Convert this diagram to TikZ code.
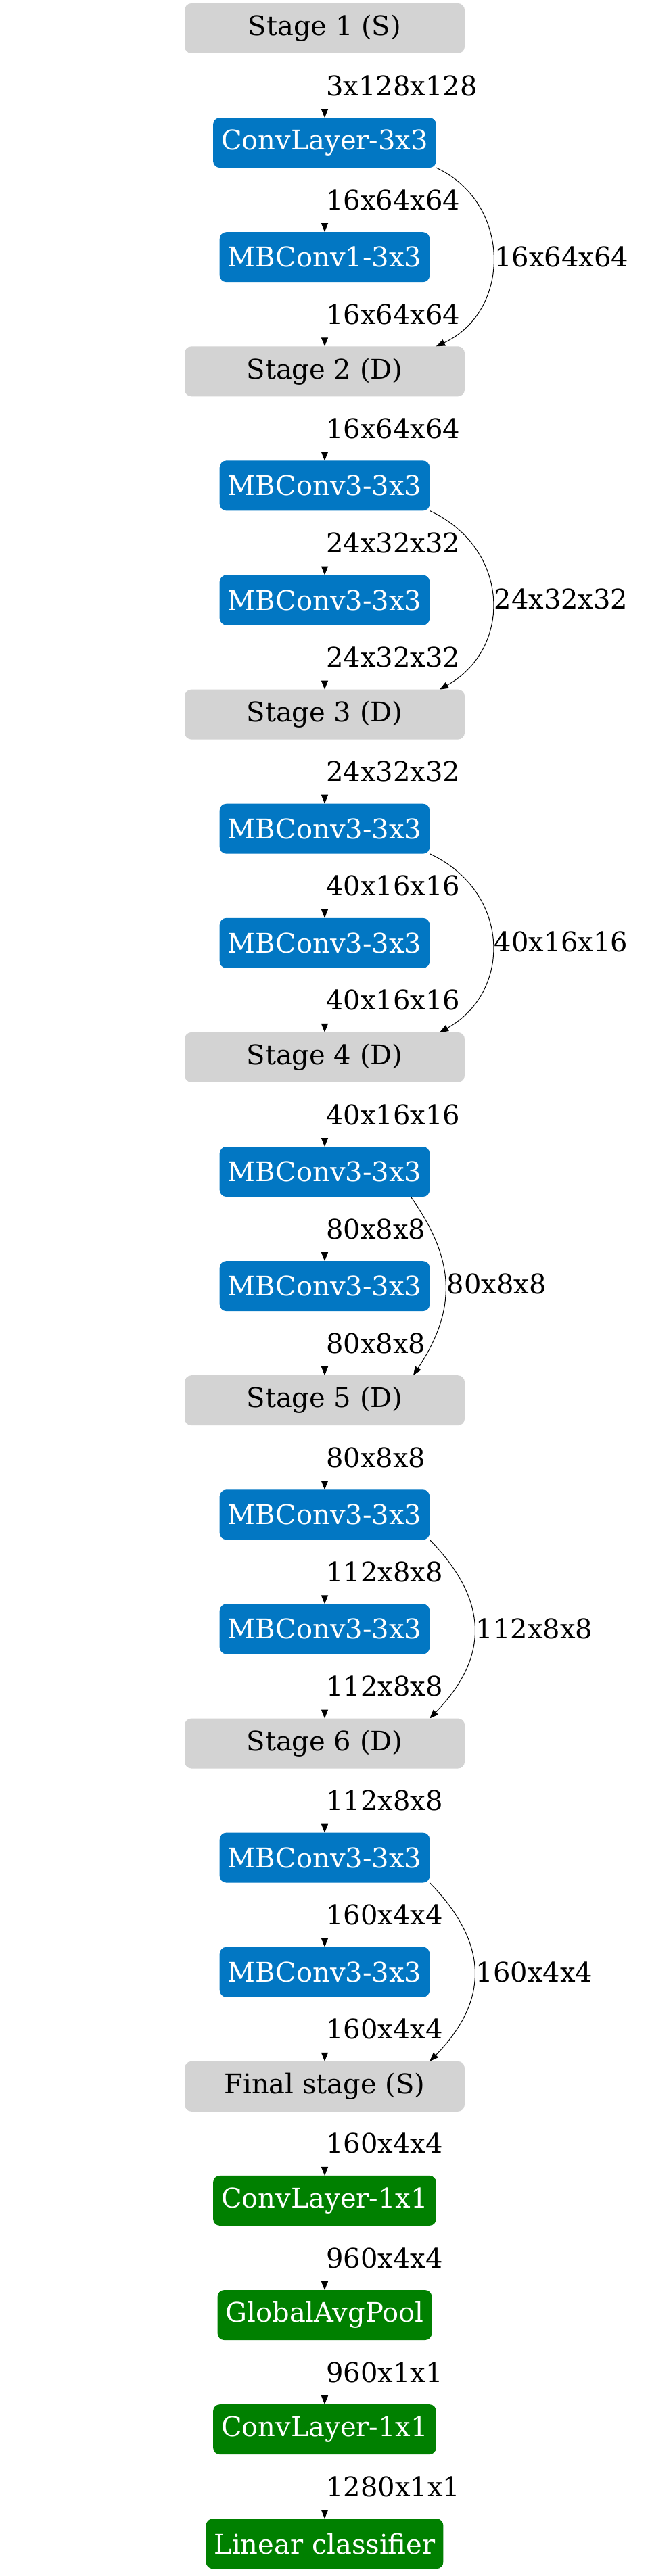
\documentclass[tikz,border=0pt]{standalone}
\usepackage{fontspec}
\setmainfont{DejaVu Serif}
\usetikzlibrary{positioning,arrows.meta}
\definecolor{stagegray}{HTML}{D3D3D3}
\definecolor{mbblue}{HTML}{0277C3}
\definecolor{headgreen}{HTML}{008000}

\begin{document}
\begin{tikzpicture}[
        font=\fontsize{20}{24}\selectfont,
        node distance=47.55pt,
        box/.style={rounded corners=5pt, minimum height=37pt, inner xsep=6pt, inner ysep=0pt, outer sep=0pt},
        stage/.style={box, fill=stagegray, minimum width=207pt},
        mbconv/.style={box, fill=mbblue, text=white},
        head/.style={box, fill=headgreen, text=white},
        flow/.style={line width=0.5pt, -{Triangle[length=6.5pt,width=5pt]}},
        dims/.style={right, inner sep=1pt}
    ]
        \useasboundingbox (0,0) rectangle (480pt,-1905pt);

        \node[stage, anchor=north] (s1) at (240pt,-2.5pt) {Stage 1 (S)};
        \node[mbconv, below=of s1] (conv1) {ConvLayer-3x3};
        \node[mbconv, below=of conv1] (mb1) {MBConv1-3x3};
        \node[stage, below=of mb1] (s2) {Stage 2 (D)};
        \node[mbconv, below=of s2] (mb2a) {MBConv3-3x3};
        \node[mbconv, below=of mb2a] (mb2b) {MBConv3-3x3};
        \node[stage, below=of mb2b] (s3) {Stage 3 (D)};
        \node[mbconv, below=of s3] (mb3a) {MBConv3-3x3};
        \node[mbconv, below=of mb3a] (mb3b) {MBConv3-3x3};
        \node[stage, below=of mb3b] (s4) {Stage 4 (D)};
        \node[mbconv, below=of s4] (mb4a) {MBConv3-3x3};
        \node[mbconv, below=of mb4a] (mb4b) {MBConv3-3x3};
        \node[stage, below=of mb4b] (s5) {Stage 5 (D)};
        \node[mbconv, below=of s5] (mb5a) {MBConv3-3x3};
        \node[mbconv, below=of mb5a] (mb5b) {MBConv3-3x3};
        \node[stage, below=of mb5b] (s6) {Stage 6 (D)};
        \node[mbconv, below=of s6] (mb6a) {MBConv3-3x3};
        \node[mbconv, below=of mb6a] (mb6b) {MBConv3-3x3};
        \node[stage, below=of mb6b] (sfin) {Final stage (S)};
        \node[head, below=of sfin] (convh) {ConvLayer-1x1};
        \node[head, below=of convh] (pool) {GlobalAvgPool};
        \node[head, below=of pool] (convf) {ConvLayer-1x1};
        \node[head, below=of convf] (lin) {Linear classifier};

        \draw[flow] (s1) -- node[dims] {3x128x128} (conv1);
        \draw[flow] (conv1) -- node[dims] {16x64x64} (mb1);
        \draw[flow] (mb1) -- node[dims] {16x64x64} (s2);
        \draw[flow] (conv1.south east) .. controls +(56pt,-26pt) and +(56pt,26pt) .. (conv1.east |- s2.north) node[dims, midway] {16x64x64};

        \draw[flow] (s2) -- node[dims] {16x64x64} (mb2a);
        \draw[flow] (mb2a) -- node[dims] {24x32x32} (mb2b);
        \draw[flow] (mb2b) -- node[dims] {24x32x32} (s3);
        \draw[flow] (mb2a.south east) .. controls +(60pt,-28pt) and +(54pt,30pt) .. ([xshift=-18.5pt]s3.north east) node[dims, midway] {24x32x32};

        \draw[flow] (s3) -- node[dims] {24x32x32} (mb3a);
        \draw[flow] (mb3a) -- node[dims] {40x16x16} (mb3b);
        \draw[flow] (mb3b) -- node[dims] {40x16x16} (s4);
        \draw[flow] (mb3a.south east) .. controls +(60pt,-28pt) and +(54pt,30pt) .. ([xshift=-18.5pt]s4.north east) node[dims, midway] {40x16x16};

        \draw[flow] (s4) -- node[dims] {40x16x16} (mb4a);
        \draw[flow] (mb4a) -- node[dims] {80x8x8} (mb4b);
        \draw[flow] (mb4b) -- node[dims] {80x8x8} (s5);
        \draw[flow] ([xshift=-14pt]mb4a.south east) .. controls +(32.5pt,-46pt) and +(33pt,50pt) .. ([xshift=-38pt]s5.north east) node[dims, midway] {80x8x8};

        \draw[flow] (s5) -- node[dims] {80x8x8} (mb5a);
        \draw[flow] (mb5a) -- node[dims] {112x8x8} (mb5b);
        \draw[flow] (mb5b) -- node[dims] {112x8x8} (s6);
        \draw[flow] (mb5a.south east) .. controls +(44pt,-45pt) and +(44pt,45pt) .. (mb5a.east |- s6.north) node[dims, midway] {112x8x8};

        \draw[flow] (s6) -- node[dims] {112x8x8} (mb6a);
        \draw[flow] (mb6a) -- node[dims] {160x4x4} (mb6b);
        \draw[flow] (mb6b) -- node[dims] {160x4x4} (sfin);
        \draw[flow] (mb6a.south east) .. controls +(44pt,-45pt) and +(44pt,45pt) .. (mb6a.east |- sfin.north) node[dims, midway] {160x4x4};

        \draw[flow] (sfin) -- node[dims] {160x4x4} (convh);
        \draw[flow] (convh) -- node[dims] {960x4x4} (pool);
        \draw[flow] (pool) -- node[dims] {960x1x1} (convf);
        \draw[flow] (convf) -- node[dims] {1280x1x1} (lin);
    \end{tikzpicture}
\end{document}
